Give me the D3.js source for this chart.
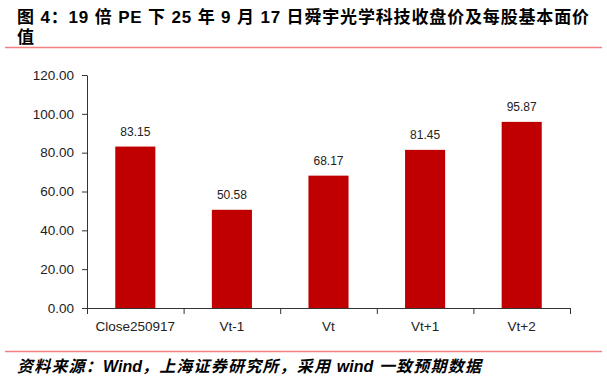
<!DOCTYPE html>
<html>
<head>
<meta charset="utf-8">
<script src="https://cdn.jsdelivr.net/npm/d3@7"></script>
<style>
  body { margin: 0; background: #fff; }
  svg { display: block; }
</style>
</head>
<body>
<div id="chart"></div>
<script>
// data
const categories = ["Close250917", "Vt-1", "Vt", "Vt+1", "Vt+2"];
const values = [83.15, 50.58, 68.17, 81.45, 95.87];
const yTicks = [0, 20, 40, 60, 80, 100, 120];

const W = 607, H = 379;
const margin = { left: 87, right: 37, top: 75, bottom: 71 };

const svg = d3.select("#chart").append("svg")
  .attr("width", W)
  .attr("height", H);

// title
const title = svg.append("text")
  .attr("font-family", "Liberation Sans, Arial, 'Noto Sans CJK SC', sans-serif")
  .attr("font-weight", "bold")
  .attr("font-size", 17)
  .attr("fill", "#000");
title.append("tspan").attr("x", 17).attr("y", 23)
  .attr("textLength", 572).attr("lengthAdjust", "spacing")
  .text("图 4：19 倍 PE 下 25 年 9 月 17 日舜宇光学科技收盘价及每股基本面价");
title.append("tspan").attr("x", 17).attr("y", 43).text("值");

svg.append("line")
  .attr("x1", 5).attr("x2", 602).attr("y1", 47.5).attr("y2", 47.5)
  .attr("stroke", "#F28080").attr("stroke-width", 1.5);

svg.append("line")
  .attr("x1", 5).attr("x2", 602).attr("y1", 351.5).attr("y2", 351.5)
  .attr("stroke", "#F28080").attr("stroke-width", 1.5);

// footer: CJK runs a bit wider than the latin words
const foot = svg.append("text")
  .attr("x", 17).attr("y", 372)
  .attr("font-family", "Liberation Sans, Arial, 'Noto Sans CJK SC', sans-serif")
  .attr("font-size", 16)
  .attr("font-style", "italic")
  .attr("font-weight", "bold");
[["资料来源：", 1.2], ["Wind", 0], ["，上海证券研究所，采用 ", 1.2], ["wind", 0], [" 一致预期数据", 1.2]]
  .forEach(([t, ls]) => foot.append("tspan").attr("letter-spacing", ls).text(t));

// scales
const x = d3.scaleBand()
  .domain(categories)
  .range([margin.left, W - margin.right])
  .paddingInner(0.585)
  .paddingOuter(0.2925);

const y = d3.scaleLinear()
  .domain([0, 120])
  .range([H - margin.bottom, margin.top]);

// y axis
const yAxis = svg.append("g")
  .attr("transform", `translate(${margin.left},0)`)
  .call(d3.axisLeft(y).tickValues(yTicks).tickSize(5).tickSizeOuter(0)
    .tickFormat(d3.format(".2f")));
yAxis.selectAll("text")
  .attr("font-family", "Liberation Sans, Arial, sans-serif")
  .attr("font-size", 13.5)
  .attr("fill", "#222")
  .attr("dx", "-5");
yAxis.selectAll("line, path").attr("stroke", "#333");

// x axis with ticks at category boundaries
const step = x.step();
const bounds = d3.range(categories.length + 1).map(i => margin.left + i * step);
const xg = svg.append("g");
xg.append("line")
  .attr("x1", margin.left).attr("x2", W - margin.right)
  .attr("y1", y(0) + 0.5).attr("y2", y(0) + 0.5)
  .attr("stroke", "#333");
xg.selectAll(".xt").data(bounds).enter().append("line")
  .attr("x1", d => d + 0.5).attr("x2", d => d + 0.5)
  .attr("y1", y(0)).attr("y2", y(0) + 6)
  .attr("stroke", "#333");
xg.selectAll(".xl").data(categories).enter().append("text")
  .attr("x", d => x(d) + x.bandwidth() / 2)
  .attr("y", y(0) + 23)
  .attr("text-anchor", "middle")
  .attr("font-family", "Liberation Sans, Arial, sans-serif")
  .attr("font-size", 13.5)
  .attr("fill", "#222")
  .text(d => d);

// bars
svg.selectAll(".bar").data(values).enter().append("rect")
  .attr("x", (d, i) => x(categories[i]))
  .attr("y", d => y(d))
  .attr("width", x.bandwidth())
  .attr("height", d => y(0) - y(d))
  .attr("fill", "#C00000");

// value labels
svg.selectAll(".val").data(values).enter().append("text")
  .attr("x", (d, i) => x(categories[i]) + x.bandwidth() / 2)
  .attr("y", d => y(d) - 11)
  .attr("text-anchor", "middle")
  .attr("font-family", "Liberation Sans, Arial, sans-serif")
  .attr("font-size", 12)
  .attr("fill", "#222")
  .text(d => d.toFixed(2));
</script>
</body>
</html>
